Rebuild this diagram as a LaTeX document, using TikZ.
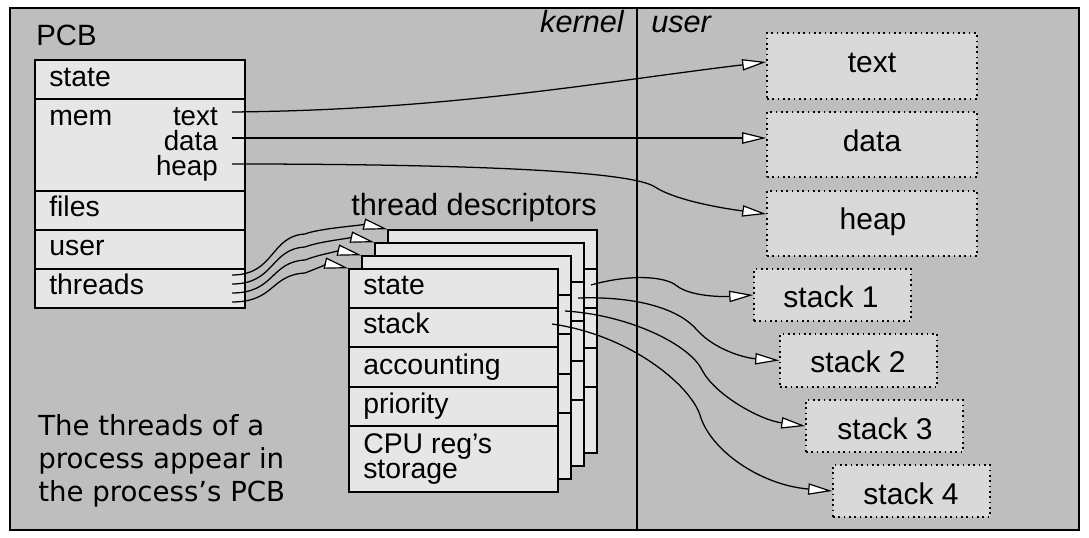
\documentclass[tikz,border=0pt]{standalone}
\usepackage{fontspec}
\setmainfont{Liberation Sans}
\newfontfamily\notefamily{DejaVu Sans}
\usetikzlibrary{arrows.meta,fit}
\definecolor{bggray}{RGB}{190,190,190}
\definecolor{rowfill}{RGB}{230,230,230}
\definecolor{ufill}{RGB}{217,217,217}
\newcommand\rowfont{\fontsize{21.3pt}{22pt}\selectfont}
\newcommand\memfont{\fontsize{20.8pt}{22pt}\selectfont}
\newcommand\boxfont{\fontsize{22.5pt}{24pt}\selectfont}
\newcommand\bigfont{\fontsize{23pt}{25pt}\selectfont}
\newcommand\notefont{\notefamily\fontsize{20.7pt}{24.6pt}\selectfont}
\tikzset{
  frame/.style={draw, fill=bggray, line width=1.2pt, inner sep=0pt},
  row/.style={draw, fill=rowfill, line width=1.1pt, inner sep=0pt},
  ubox/.style={draw, fill=ufill, dash pattern=on 1.3pt off 2.7pt, line width=1.2pt, inner sep=0pt},
  rowtxt/.style={font=\rowfont, anchor=base west, inner sep=0pt},
  memtxt/.style={font=\memfont, anchor=base east, inner sep=0pt},
  boxtxt/.style={font=\boxfont, anchor=base, inner sep=0pt},
  conn/.style={line width=0.95pt, -{Triangle[length=18pt,width=8.5pt,fill=white,line width=0.9pt]}}
}
\begin{document}
\begin{tikzpicture}[x=0.75pt,y=-0.75pt]
\useasboundingbox (0,0) rectangle (1089,538);
\fill[white] (0,0) rectangle (1089,538);
% frame
\node[frame, fit={(10,8) (1079,530)}] (frame) {};
\coordinate (divtop) at (637,8);
\coordinate (divbot) at (637,530);
\draw[line width=1.2pt] (divtop) -- (divbot);
\node[font=\bigfont\itshape, anchor=base east, inner sep=0pt] (kernel) at (624,33) {kernel};
\node[font=\bigfont\itshape, anchor=base west, inner sep=0pt] (user) at (651,33) {user};
% PCB
\node[font=\fontsize{22pt}{24pt}\selectfont, anchor=base west, inner sep=0pt] (pcblabel) at (36,46) {PCB};
\node[row, fit={(35,60) (245,99)}] (pcbstate) {};
\node[row, fit={(35,99) (245,191)}] (pcbmem) {};
\node[row, fit={(35,191) (245,230)}] (pcbfiles) {};
\node[row, fit={(35,230) (245,269)}] (pcbuser) {};
\node[row, fit={(35,269) (245,308)}] (pcbthreads) {};
\node[rowtxt] (t-state) at (49,87) {state};
\node[rowtxt] (t-mem) at (49,126) {mem};
\node[rowtxt] (t-files) at (49,217) {files};
\node[rowtxt] (t-user) at (49,256) {user};
\node[rowtxt] (t-threads) at (49,295) {threads};
\node[memtxt] (memtext) at (218,126) {text};
\node[memtxt] (memdata) at (218,151) {data};
\node[memtxt] (memheap) at (218,176) {heap};
% thread descriptors
\node[font=\bigfont, anchor=base, inner sep=0pt] (tdlabel) at (474,216) {thread descriptors};
\foreach \k in {3,2,1,0}{
  \pgfmathsetmacro\X{349+13*\k}
  \pgfmathsetmacro\XR{558+13*\k}
  \pgfmathsetmacro\Y{269-13*\k}
  \pgfmathsetmacro\Ya{\Y+39}
  \pgfmathsetmacro\Yb{\Y+78}
  \pgfmathsetmacro\Yc{\Y+118}
  \pgfmathsetmacro\Yd{\Y+157}
  \pgfmathsetmacro\Ye{\Y+223}
  \node[row, fit={(\X,\Y) (\XR,\Ya)}] (td\k-state) {};
  \node[row, fit={(\X,\Ya) (\XR,\Yb)}] (td\k-stack) {};
  \node[row, fit={(\X,\Yb) (\XR,\Yc)}] (td\k-acc) {};
  \node[row, fit={(\X,\Yc) (\XR,\Yd)}] (td\k-prio) {};
  \node[row, fit={(\X,\Yd) (\XR,\Ye)}] (td\k-cpu) {};
}
\node[rowtxt] (f-state) at (363,295) {state};
\node[rowtxt] (f-stack) at (363,334) {stack};
\node[rowtxt] (f-acc) at (363,374) {accounting};
\node[rowtxt] (f-prio) at (363,413) {priority};
\node[rowtxt] (f-cpu1) at (363,453) {CPU reg’s};
\node[rowtxt] (f-cpu2) at (363,478) {storage};
% user boxes
\node[ubox, fit={(767,33) (977,99)}] (utext) {};
\node[ubox, fit={(767,112) (977,177)}] (udata) {};
\node[ubox, fit={(767,191) (977,256)}] (uheap) {};
\node[ubox, fit={(754,269) (911,321)}] (stack1) {};
\node[ubox, fit={(780,334) (937,387)}] (stack2) {};
\node[ubox, fit={(806,400) (963,452)}] (stack3) {};
\node[ubox, fit={(833,465) (990,517)}] (stack4) {};
\node[boxtxt] (l-text) at (872,73) {text};
\node[boxtxt] (l-data) at (872,152) {data};
\node[boxtxt] (l-heap) at (873,230) {heap};
\node[boxtxt] (l-s1) at (831,308) {stack 1};
\node[boxtxt] (l-s2) at (858,373) {stack 2};
\node[boxtxt] (l-s3) at (885,439) {stack 3};
\node[boxtxt] (l-s4) at (911,504) {stack 4};
% note
\node[font=\notefont, anchor=base west, inner sep=0pt] (note1) at (38,435) {The threads of a};
\node[font=\notefont, anchor=base west, inner sep=0pt] (note2) at (38,468) {process appear in};
\node[font=\notefont, anchor=base west, inner sep=0pt] (note3) at (38,501) {the process’s PCB};
% mem connectors
\coordinate (ptext) at (232,112);
\coordinate (pdata) at (232,138);
\coordinate (pheap) at (232,164);
\coordinate (atext) at (utext.west |- 0,62);
\coordinate (aheap) at (uheap.west |- 0,214);
\draw[conn] (ptext) .. controls (450,110) and (600,82) .. (atext);
\draw[conn] (pdata) -- (pdata -| udata.west);
\draw[conn] (pheap) .. controls (450,164) and (630,170) .. (655,187) .. controls (675,200) and (720,208) .. (aheap);
% thread connectors
\foreach \k in {0,...,3}{
  \pgfmathsetmacro\ys{302-9*\k}
  \pgfmathsetmacro\ty{269-13*\k}
  \pgfmathsetmacro\tx{349+13*\k}
  \coordinate (th\k) at (232,\ys);
  \draw[conn] (th\k) .. controls (275,\ys) and (270,\ty+6) .. (305,\ty+4) .. controls (320,\ty-2) and (\tx-20,\ty-5) .. (td\k-state.north west);
}
% stack connectors
\foreach \k in {0,...,3}{
  \coordinate (st\k) at (552+13*\k, 324-13*\k);
}
\draw[conn] (st3) .. controls (630,274) and (665,276) .. (677,286) .. controls (690,296) and (720,297) .. (stack1.west);
\draw[conn] (st2) .. controls (640,296) and (680,310) .. (697,330) .. controls (715,350) and (745,358) .. (stack2.west);
\draw[conn] (st1) .. controls (630,315) and (690,345) .. (702,370) .. controls (715,395) and (760,420) .. (stack3.west);
\draw[conn] (st0) .. controls (630,335) and (690,385) .. (700,415) .. controls (710,450) and (760,485) .. (stack4.west);
\end{tikzpicture}
\end{document}
